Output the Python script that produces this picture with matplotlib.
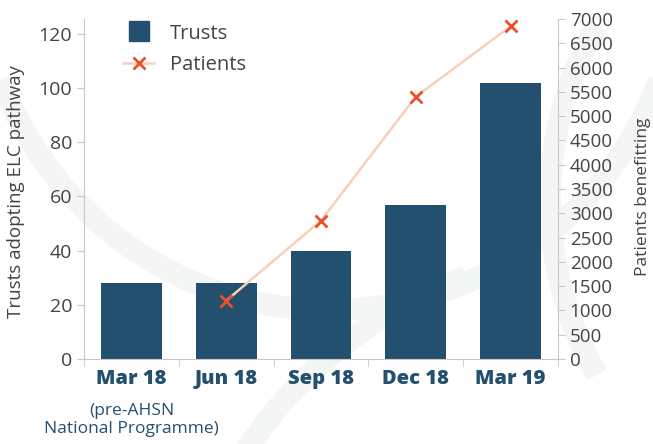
import numpy as np
import matplotlib.pyplot as plt
from matplotlib.patches import Arc
from matplotlib.lines import Line2D

quarters = ['Mar 18', 'Jun 18', 'Sep 18', 'Dec 18', 'Mar 19']
trusts = [28, 28, 40, 57, 102]
patient_quarters = ['Jun 18', 'Sep 18', 'Dec 18', 'Mar 19']
patients = [1200, 2850, 5400, 6850]

bar_col = '#24506f'
line_col = '#f8cfb8'
mark_col = '#e8502a'
txt_col = '#444444'
spine_col = '#c8c8c8'

plt.rcParams['font.family'] = ['Open Sans', 'DejaVu Sans']

fig = plt.figure(figsize=(6.53, 4.44), dpi=100)

# faint background arcs
bg = fig.add_axes([0, 0, 1, 1], zorder=-5)
bg.set_xlim(0, 653)
bg.set_ylim(444, 0)
bg.axis('off')
arc_kw = dict(color='#f3f6f5', lw=16)
bg.add_patch(Arc((330, -40), 700, 700, theta1=20, theta2=160, **arc_kw))
bg.add_patch(Arc((620, 700), 900, 900, theta1=160, theta2=250, **arc_kw))
bg.add_patch(Arc((-120, 120), 900, 900, theta1=-80, theta2=-20, **arc_kw))
bg.add_patch(Arc((900, 200), 700, 700, theta1=150, theta2=210, **arc_kw))

ax = fig.add_axes([0.1286, 0.1914, 0.7259, 0.7658])
x = np.arange(len(quarters))
ax.bar(x, trusts, width=0.64, color=bar_col, zorder=2)
ax.set_xlim(-0.5, 4.5)
ax.set_ylim(0, 125.5)
ax.set_yticks(range(0, 121, 20))
ax.set_xticks(x)
ax.set_xticklabels(quarters, fontweight='heavy', color=bar_col, fontsize=14.5)
ax.set_xticks(np.arange(-0.5, 5, 1), minor=True)
ax.tick_params(axis='x', which='major', length=0, pad=7)
ax.tick_params(axis='x', which='minor', length=5, color=spine_col)
ax.tick_params(axis='y', labelsize=14, colors=txt_col, length=5, color=spine_col)
ax.set_ylabel('Trusts adopting ELC pathway', fontsize=13.5, color=txt_col)
ax.yaxis.set_label_coords(-0.124, 0.493)
for s in ['top', 'right']:
    ax.spines[s].set_visible(False)
for s in ['left', 'bottom']:
    ax.spines[s].set_color(spine_col)
ax.patch.set_alpha(0)

ax.text(0, -0.13, '(pre-AHSN\nNational Programme)', transform=ax.get_xaxis_transform(),
        ha='center', va='top', fontsize=12.5, color=bar_col, linespacing=1.15)

ax2 = ax.twinx()
px = [quarters.index(q) for q in patient_quarters]
ax2.plot(px, patients, color=line_col, lw=1.8, marker='x', markersize=9,
         markeredgecolor=mark_col, markeredgewidth=2, zorder=3)
ax2.set_ylim(0, 7000)
ax2.set_yticks(range(0, 7001, 500))
ax2.tick_params(axis='y', labelsize=13.5, colors=txt_col, length=5, color=spine_col)
ax2.set_ylabel('Patients benefitting', fontsize=12.5, color=txt_col)
ax2.yaxis.set_label_coords(1.163, 0.476)
for s in ['top', 'left', 'bottom']:
    ax2.spines[s].set_visible(False)
ax2.spines['right'].set_color(spine_col)

handles = [Line2D([], [], marker='s', markersize=14, ls='none', color=bar_col),
           Line2D([], [], color=line_col, lw=1.8, marker='x', markersize=9,
                  markeredgecolor=mark_col, markeredgewidth=2)]
ax2.legend(handles, ['Trusts', 'Patients'], loc='upper left', bbox_to_anchor=(0.045, 1.04),
           frameon=False, fontsize=14.5, labelcolor=txt_col, handlelength=1.5,
           handletextpad=0.8, labelspacing=0.55)

fig.savefig('out.png', dpi=100)
